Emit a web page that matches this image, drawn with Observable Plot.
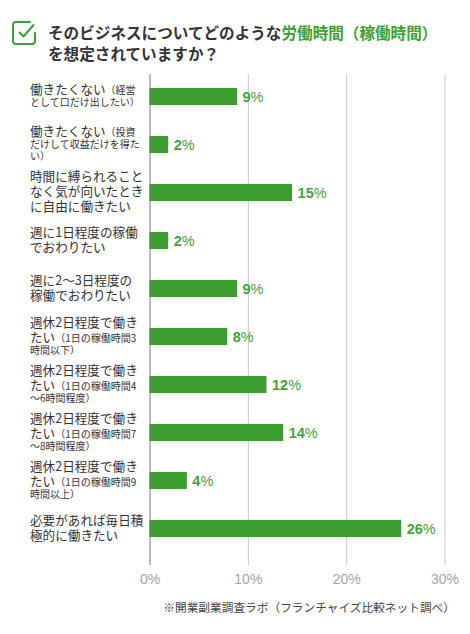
<!DOCTYPE html>
<html>
<head>
<meta charset="utf-8">
<script src="https://cdn.jsdelivr.net/npm/d3@7"></script>
<script src="https://cdn.jsdelivr.net/npm/@observablehq/plot@0.6"></script>
<style>
  html, body { margin: 0; padding: 0; background: #fff; }
  body { width: 470px; font-family: "Noto Sans CJK JP", "Noto Sans", sans-serif; }
  #header { position: relative; height: 66px; }
  #icon { position: absolute; left: 0; top: 0; }
  #title { position: absolute; left: 48px; top: 21.5px; font-size: 15.6px; line-height: 21px; font-weight: bold; color: #333; white-space: nowrap; }
  #title .hl { color: #3d9f33; }
  #chart svg { display: block; }
  #caption { text-align: right; padding-right: 15px; margin-top: 4px; font-size: 11.7px; line-height: 14px; color: #444; }
</style>
</head>
<body>
<div id="header">
  <svg id="icon" width="46" height="60">
    <path d="M30 22 H16 Q13 22 13 25 V41 Q13 44 16 44 H32 Q35 44 35 41 V33" fill="none" stroke="#3d9f33" stroke-width="2" stroke-linecap="round"/>
    <path d="M19.5 32.5 L23.5 36.5 L33.5 25" fill="none" stroke="#3d9f33" stroke-width="2" stroke-linecap="round" stroke-linejoin="round"/>
  </svg>
  <div id="title">そのビジネスについてどのような<span class="hl">労働時間（稼働時間）</span><br>を想定されていますか？</div>
</div>
<div id="chart"></div>
<div id="caption">※開業副業調査ラボ（フランチャイズ比較ネット調べ）</div>
<script>
const categories = [
  "働きたくない（経営\nとして口だけ出したい）",
  "働きたくない（投資\nだけして収益だけを得た\nい）",
  "時間に縛られること\nなく気が向いたとき\nに自由に働きたい",
  "週に1日程度の稼働\nでおわりたい",
  "週に2〜3日程度の\n稼働でおわりたい",
  "週休2日程度で働き\nたい（1日の稼働時間3\n時間以下）",
  "週休2日程度で働き\nたい（1日の稼働時間4\n〜6時間程度）",
  "週休2日程度で働き\nたい（1日の稼働時間7\n〜8時間程度）",
  "週休2日程度で働き\nたい（1日の稼働時間9\n時間以上）",
  "必要があれば毎日積\n極的に働きたい"
];
const values = [8.9, 1.9, 14.5, 1.9, 8.9, 7.9, 11.9, 13.6, 3.8, 25.6];
const percentLabels = [9, 2, 15, 2, 9, 8, 12, 14, 4, 26];
const xTicks = [0, 10, 20, 30];

const data = categories.map((c, i) => ({cat: c, value: values[i], label: percentLabels[i] + "%"}));

const green = "#3c9e31";
const chart = Plot.plot({
  width: 470,
  height: 530,
  marginLeft: 149.5,
  marginRight: 25.5,
  marginTop: 8,
  marginBottom: 31,
  style: {fontFamily: "'Liberation Sans', 'Noto Sans', sans-serif", background: "#fff"},
  x: {domain: [0, 30], ticks: xTicks, tickFormat: d => d + "%", label: null},
  y: {domain: categories, range: [6.5, 486.5], paddingInner: 0.645, paddingOuter: 0.3225, axis: null},
  marks: [
    Plot.ruleX(xTicks.slice(1), {stroke: "#c8c8c8", strokeWidth: 1}),
    Plot.barX(data, {x: "value", y: "cat", fill: green}),
    Plot.ruleX([0], {stroke: "#777", strokeWidth: 1}),
    Plot.text(data, {x: "value", y: "cat", text: "label", dx: 5, textAnchor: "start", fill: "#44a33a", fontSize: 14.5, fontWeight: "bold"}),
    Plot.axisX(xTicks, {tickSize: 0, tickPadding: 9, fontSize: 14, color: "#a5a5a5", tickFormat: d => d + "%", label: null})
  ]
});
document.getElementById("chart").appendChild(chart);

// make "%" in value labels lighter weight
d3.select(chart).selectAll("g[aria-label='text'] text").each(function() {
  const t = this.textContent;
  const m = t.match(/^(\d+)(%)$/);
  if (!m) return;
  const sel = d3.select(this);
  sel.text(null);
  sel.append("tspan").text(m[1]);
  sel.append("tspan").attr("font-weight", "normal").text(m[2]);
});

// category labels with smaller parenthetical text
const y = chart.scale("y");
const g = d3.select(chart).append("g")
  .attr("font-family", "'Noto Sans CJK JP', sans-serif")
  .attr("text-anchor", "start")
  .attr("fill", "#333");
categories.forEach(cat => {
  const lines = cat.split("\n");
  const pIdx = cat.indexOf("（");
  let pos = 0;
  const starts = [];
  let off = 0;
  lines.forEach(ln => { starts.push(off); off += ln.length + 1; });
  const big = lines.map((ln, i) => pIdx < 0 || starts[i] < pIdx);
  const ys = [];
  lines.forEach((ln, i) => { if (i > 0) pos += big[i] ? 15 : 12; ys.push(pos); });
  const center = y.apply(cat) + y.bandwidth / 2;
  lines.forEach((ln, i) => {
    const t = g.append("text").attr("x", 30).attr("y", center + ys[i] - pos / 2).attr("dy", "0.36em");
    let segBig = ln, segSmall = "";
    if (pIdx >= 0) {
      const cut = Math.max(0, Math.min(ln.length, pIdx - starts[i]));
      segBig = ln.slice(0, cut);
      segSmall = ln.slice(cut);
    }
    if (segBig) t.append("tspan").attr("font-size", 12.6).text(segBig);
    if (segSmall) t.append("tspan").attr("font-size", 10).text(segSmall);
  });
});
</script>
</body>
</html>
